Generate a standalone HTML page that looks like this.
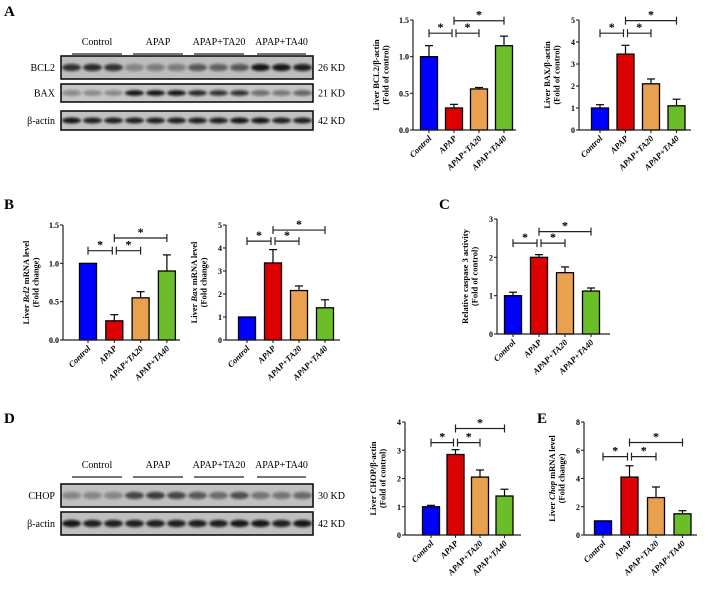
<!DOCTYPE html>
<html><head><meta charset="utf-8"><style>
html,body{margin:0;padding:0;background:#fff}
svg{display:block}
text{font-family:"Liberation Serif",serif}
</style></head><body>
<svg id="fig" width="708" height="589" viewBox="0 0 708 589" xmlns="http://www.w3.org/2000/svg">
<defs><filter id="blur" x="-20%" y="-50%" width="140%" height="200%"><feGaussianBlur stdDeviation="1.3"/></filter></defs>
<g font-weight="bold" font-size="15">
<text x="4" y="16">A</text>
<text x="4" y="209">B</text>
<text x="439" y="209">C</text>
<text x="4" y="423">D</text>
<text x="537" y="423">E</text>
</g>
</svg>
<script>
const categories = ["Control","APAP","APAP+TA20","APAP+TA40"];
const colors = ["#0000ff","#dd0000","#e9a04f","#6bbd2a"];
// Values per chart
const bcl2Values = [1.0, 0.3, 0.56, 1.15];
const bcl2Errors = [0.15, 0.05, 0.02, 0.13];
const baxValues = [1.0, 3.45, 2.1, 1.1];
const baxErrors = [0.15, 0.4, 0.22, 0.3];
const bcl2mRNAValues = [1.0, 0.25, 0.55, 0.9];
const bcl2mRNAErrors = [0, 0.08, 0.08, 0.21];
const baxmRNAValues = [1.0, 3.35, 2.15, 1.4];
const baxmRNAErrors = [0, 0.58, 0.2, 0.35];
const caspaseValues = [1.0, 2.0, 1.6, 1.12];
const caspaseErrors = [0.09, 0.07, 0.15, 0.08];
const chopValues = [1.0, 2.85, 2.05, 1.38];
const chopErrors = [0.05, 0.17, 0.25, 0.24];
const chopmRNAValues = [1.0, 4.1, 2.65, 1.5];
const chopmRNAErrors = [0, 0.8, 0.75, 0.22];
const bcl2Ticks = ["0.0","0.5","1.0","1.5"];
const baxTicks = ["0","1","2","3","4","5"];
const bcl2mRNATicks = ["0.0","0.5","1.0","1.5"];
const baxmRNATicks = ["0","1","2","3","4","5"];
const caspaseTicks = ["0","1","2","3"];
const chopTicks = ["0","1","2","3","4"];
const chopmRNATicks = ["0","2","4","6","8"];
// significance bracket heights [ctrl-apap & apap-ta20 level, apap-ta40 level]
const bcl2Sig = [1.32, 1.49];
const baxSig = [4.4, 4.97];
const bcl2mRNASig = [1.165, 1.33];
const baxmRNASig = [4.3, 4.78];
const caspaseSig = [2.37, 2.67];
const chopSig = [3.27, 3.77];
const chopmRNASig = [5.55, 6.55];

const NS = "http://www.w3.org/2000/svg";
const svg = document.getElementById("fig");
function mk(tag, attrs, parent){const e=document.createElementNS(NS,tag);for(const k in attrs)e.setAttribute(k,attrs[k]);(parent||svg).appendChild(e);return e;}

function chart(cfg){
  const g = mk("g",{});
  
  
  const ticks = cfg.ticks.map(Number);
  const ymax = ticks[ticks.length-1];
  const y = v => cfg.y0 - (v/ymax)*(cfg.y0-cfg.y1);
  const x = i => cfg.cx0 + i*cfg.step;
  const bw = 17;
  cfg.values.forEach((v,i)=>{
    const err = cfg.errors[i];
    if(err>0){
      const l = mk("line",{x1:x(i),x2:x(i),y1:y(v),y2:y(v+err),stroke:"#000","stroke-width":1.2},g);
      
      
      const c = mk("line",{x1:x(i)-4,x2:x(i)+4,y1:y(v+err),y2:y(v+err),stroke:"#000","stroke-width":1.2},g);
      
      
    }
    const r = mk("rect",{x:x(i)-bw/2,y:y(v),width:bw,height:y(0)-y(v),fill:colors[i],stroke:"#000","stroke-width":1.3},g);
    
    
  });
  const ya = mk("line",{x1:cfg.ax,x2:cfg.ax,y1:cfg.y1,y2:cfg.y0,stroke:"#222","stroke-width":1.2},g);
  
  
  const xa = mk("line",{x1:cfg.ax,x2:cfg.xend,y1:cfg.y0,y2:cfg.y0,stroke:"#222","stroke-width":1.2},g);
  
  
  cfg.ticks.forEach((t,i)=>{
    const yy = y(ticks[i]);
    mk("line",{x1:cfg.ax-3,x2:cfg.ax,y1:yy,y2:yy,stroke:"#222","stroke-width":1.1},g);
    const tx = mk("text",{x:cfg.ax-4,y:yy+3,"text-anchor":"end","font-size":8,"font-weight":"bold"},g);
    tx.textContent = t;
    
    
  });
  categories.forEach((c,i)=>{
    mk("line",{x1:x(i),x2:x(i),y1:cfg.y0,y2:cfg.y0+3,stroke:"#222","stroke-width":1.1},g);
    const tx = mk("text",{x:x(i)+3,y:cfg.y0+9,"text-anchor":"end","font-size":8.5,"font-weight":"bold","font-style":"italic",transform:`rotate(-45 ${x(i)+3} ${cfg.y0+9})`},g);
    tx.textContent = c;
    
    
  });
  const s1 = y(cfg.sig[0]), s2 = y(cfg.sig[1]);
  const br = [[0,1,s1],[1,2,s1],[1,3,s2]];
  br.forEach(([a,b,yy],k)=>{
    const xa1 = x(a)+(k===1?2:0), xb = x(b)-(k===0?2:0);
    const bg = mk("g",{stroke:"#222","stroke-width":1.2},g);
    
    
    mk("line",{x1:xa1,x2:xb,y1:yy,y2:yy},bg);
    mk("line",{x1:xa1,x2:xa1,y1:yy-4,y2:yy+4},bg);
    mk("line",{x1:xb,x2:xb,y1:yy-4,y2:yy+4},bg);
    const st = mk("text",{x:(xa1+xb)/2,y:yy-2,"text-anchor":"middle","font-size":12,"font-weight":"bold"},g);
    st.textContent = "*";
    
    
  });
  const tx0 = cfg.ax - (cfg.tOff||31), ty = (cfg.y0+cfg.y1)/2;
  const t = mk("text",{x:0,y:0,"text-anchor":"middle","font-size":8.5,"font-weight":"bold",transform:`translate(${tx0} ${ty}) rotate(-90)`},g);
  
  
  const t1 = mk("tspan",{x:0,dy:0},t); t1.innerHTML = cfg.title1;
  const t2 = mk("tspan",{x:0,dy:9.5},t); t2.textContent = cfg.title2;
}

chart({name:"chart-bcl2-protein",values:bcl2Values,errors:bcl2Errors,ticks:bcl2Ticks,sig:bcl2Sig,ax:413,xend:516,y0:130,y1:20,cx0:429,step:25,tOff:34,title1:"Liver BCL2/β-actin",title2:"(Fold of control)"});
chart({name:"chart-bax-protein",values:baxValues,errors:baxErrors,ticks:baxTicks,sig:baxSig,ax:579,xend:691,y0:130,y1:20,cx0:600,step:25.5,tOff:29,title1:"Liver BAX/β-actin",title2:"(Fold of control)"});
chart({name:"chart-bcl2-mrna",values:bcl2mRNAValues,errors:bcl2mRNAErrors,ticks:bcl2mRNATicks,sig:bcl2mRNASig,ax:63,xend:180,y0:340,y1:225,cx0:88,step:26.3,tOff:34,title1:"Liver <tspan font-style='italic'>Bcl2</tspan> mRNA level",title2:"(Fold change)"});
chart({name:"chart-bax-mrna",values:baxmRNAValues,errors:baxmRNAErrors,ticks:baxmRNATicks,sig:baxmRNASig,ax:226,xend:340,y0:340,y1:225,cx0:247,step:26,tOff:29,title1:"Liver <tspan font-style='italic'>Bax</tspan> mRNA level",title2:"(Fold change)"});
chart({name:"chart-caspase3",values:caspaseValues,errors:caspaseErrors,ticks:caspaseTicks,sig:caspaseSig,ax:497,xend:610,y0:334,y1:219,cx0:513,step:26,tOff:29,title1:"Relative caspase 3 activity",title2:"(Fold of control)"});
chart({name:"chart-chop-protein",values:chopValues,errors:chopErrors,ticks:chopTicks,sig:chopSig,ax:405,xend:521,y0:535,y1:422,cx0:431,step:24.5,tOff:29,title1:"Liver CHOP/β-actin",title2:"(Fold of control)"});
chart({name:"chart-chop-mrna",values:chopmRNAValues,errors:chopmRNAErrors,ticks:chopmRNATicks,sig:chopmRNASig,ax:584,xend:697,y0:535,y1:422,cx0:603,step:26.5,tOff:29,title1:"Liver <tspan font-style='italic'>Chop</tspan> mRNA level",title2:"(Fold change)"});

// Western blots
const groupLabels = ["Control","APAP","APAP+TA20","APAP+TA40"];
const bcl2Bands = [0.8,0.85,0.8,0.35,0.4,0.4,0.6,0.55,0.6,0.95,0.95,0.9];
const baxBands = [0.35,0.3,0.3,0.95,0.95,0.95,0.85,0.8,0.8,0.5,0.45,0.55];
const actinBands = [0.95,0.9,0.9,0.9,0.9,0.9,0.9,0.9,0.95,0.95,0.9,0.9];
const chopBands = [0.35,0.35,0.35,0.7,0.75,0.7,0.6,0.5,0.65,0.45,0.45,0.5];
const actin2Bands = [0.95,0.9,0.9,0.9,0.9,0.9,0.9,0.9,0.95,0.95,0.9,0.95];

function blotPanel(name, top, rows){
  const g = mk("g",{});
  
  
  const x0=61, x1=313, lane=(x1-x0)/12;
  const segs=[[72,122],[133,183],[194,244],[257,306]];
  groupLabels.forEach((lbl,i)=>{
    const t=mk("text",{x:(segs[i][0]+segs[i][1])/2,y:top,"text-anchor":"middle","font-size":10},g);
    t.textContent=lbl;
    
    
    mk("line",{x1:segs[i][0],x2:segs[i][1],y1:top+9,y2:top+9,stroke:"#222","stroke-width":1.2},g);
  });
  rows.forEach(r=>{
    const b=mk("g",{},g);
    
    
    mk("rect",{x:x0,y:r.y,width:x1-x0,height:r.h,fill:r.bg,stroke:"#111","stroke-width":1.6},b);
    r.bands.forEach((v,i)=>{
      mk("ellipse",{cx:x0+lane*(i+0.5),cy:r.y+r.h/2,rx:lane*0.45,ry:r.h*0.16,fill:"#111","fill-opacity":v,filter:"url(#blur)"},b);
    });
    const l=mk("text",{x:55,y:r.y+r.h/2+3.5,"text-anchor":"end","font-size":10},b);
    l.textContent=r.label;
    const k=mk("text",{x:318,y:r.y+r.h/2+3.5,"font-size":10},b);
    k.textContent=r.kd;
  });
}
blotPanel("western-blot-a",45,[
 {label:"BCL2",kd:"26 KD",y:56,h:23,bg:"#bdbdbd",bands:bcl2Bands},
 {label:"BAX",kd:"21 KD",y:84,h:18,bg:"#c6c6c6",bands:baxBands},
 {label:"β-actin",kd:"42 KD",y:111,h:19,bg:"#c2c2c2",bands:actinBands}]);
blotPanel("western-blot-d",468,[
 {label:"CHOP",kd:"30 KD",y:484,h:23,bg:"#c0c0c0",bands:chopBands},
 {label:"β-actin",kd:"42 KD",y:512,h:23,bg:"#bfbfbf",bands:actin2Bands}]);
</script>
</body></html>
